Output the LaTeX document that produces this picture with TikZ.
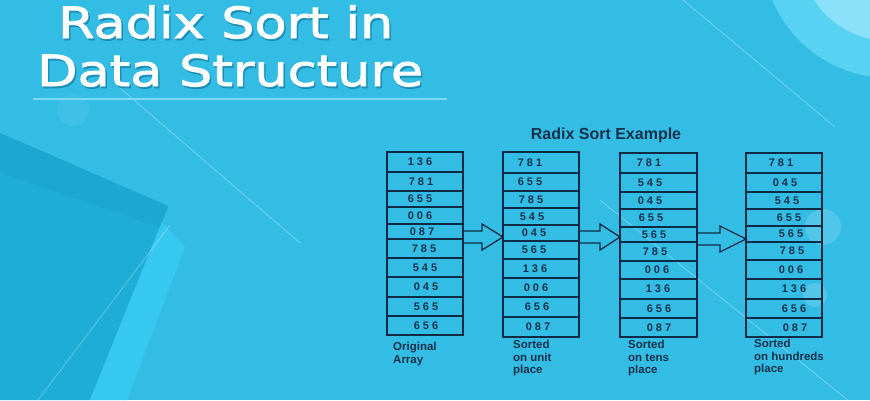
\documentclass[tikz,border=0pt]{standalone}
\usepackage{fontspec}
\setmainfont{Liberation Sans}
\newfontfamily\titlefont{DejaVu Sans}[FakeStretch=1.22,FakeBold=2]
\usetikzlibrary{calc}
\definecolor{bg}{HTML}{33BDE5}
\definecolor{bgdark}{HTML}{1DADD7}
\definecolor{bgdarker}{HTML}{1CA7D2}
\definecolor{bglight}{HTML}{36C8F0}
\definecolor{circout}{HTML}{58D2F2}
\definecolor{circin}{HTML}{8CE1FA}
\definecolor{navy}{HTML}{0E2A44}
\definecolor{inktext}{HTML}{15304A}
\definecolor{shadowc}{HTML}{13709A}
\definecolor{rule}{HTML}{7ED8F2}

\tikzset{
  cell/.style={draw=navy, line width=1.5pt, rectangle, inner sep=0pt, outer sep=0pt},
  num/.style={inner sep=0pt, text=inktext, font=\bfseries\fontsize{11}{12}\selectfont},
  lbl/.style={inner sep=0pt, anchor=north west, align=left, text=inktext, font=\bfseries\fontsize{11.5}{12.5}\selectfont},
  arrowline/.style={draw=navy, line width=1.3pt, line join=miter},
  bigtitle/.style={inner sep=0pt, anchor=base west, font=\titlefont\fontsize{43}{48}\selectfont},
  thinline/.style={draw=white, opacity=0.3, line width=0.8pt}
}

\newcommand\drawcolumn[4]{%
  \foreach \t/\b/\v/\tx [count=\i] in {#4} {
    \pgfmathsetmacro\hh{\b-\t}
    \pgfmathsetmacro\mm{(\b+\t)/2}
    \node[cell, minimum width={#3-#2}, minimum height=\hh, anchor=north west] (c#1-\i) at (#2,\t) {};
    \node[num] (n#1-\i) at (\tx,\mm) {\v};
  }%
}
\newcommand\blockarrow[3]{%
  \draw[arrowline] let \p1=(#1), \p2=(#2) in
    (\x1,\y1-6pt) -- (\x2-#3,\y1-6pt) -- (\x2-#3,\y1-13pt) -- (\p2)
    -- (\x2-#3,\y1+13pt) -- (\x2-#3,\y1+6pt) -- (\x1,\y1+6pt);%
}

\begin{document}
\begin{tikzpicture}[x=1pt,y=-1pt]
\useasboundingbox (0,0) rectangle (870,400);
% background
\fill[bg] (0,0) rectangle (870,400);
\fill[bgdark] (0,133) -- (168,206) -- (90,400) -- (0,400) -- cycle;
\fill[bgdarker] (0,133) -- (168,206) -- (160,228) -- (0,172) -- cycle;
\fill[bglight] (162,222) -- (185,247) -- (127,400) -- (90,400) -- cycle;
\fill[circout] (890,-50) circle[radius=128];
\fill[circin] (890,-50) circle[radius=91];
\fill[white, opacity=0.15] (823,227) circle[radius=18];
\fill[white, opacity=0.15] (815,295) circle[radius=12];
\fill[white, opacity=0.06] (73,110) circle[radius=16];
\draw[thinline] (38,400) -- (170,225);
\draw[thinline] (120,88) -- (300,243);
\draw[thinline] (683,0) -- (835,127);
\draw[thinline] (600,200) -- (870,418);

% main title (soft shadow, then white text)
\node[bigtitle, text=shadowc, opacity=0.5] (t1s) at (59.5,40) {Radix Sort in};
\node[bigtitle, text=shadowc, opacity=0.5] (t2s) at (38.5,88) {Data Structure};
\node[bigtitle, text=white] (t1) at (58,38) {Radix Sort in};
\node[bigtitle, text=white] (t2) at (37,86) {Data Structure};
\draw[rule, line width=1.2pt] (33,99) -- (447,99);

% diagram title
\node[inner sep=0pt, anchor=base, text=inktext, font=\bfseries\fontsize{16}{18}\selectfont] (ex) at (606,139) {Radix Sort Example};

% columns
\drawcolumn{1}{387}{463}{152/172/1 3 6/420, 172/191/7 8 1/421, 191/207/6 5 5/420, 207/224/0 0 6/420, 224/239/0 8 7/422, 239/258/7 8 5/424, 258/277/5 4 5/425, 277/297/0 4 5/426, 297/316/5 6 5/426, 316/335/6 5 6/426}
\drawcolumn{2}{503}{579}{152/173/7 8 1/530, 173/191/6 5 5/530, 191/208/7 8 5/531, 208/225/5 4 5/532, 225/241/0 4 5/534, 241/259/5 6 5/534, 259/278/1 3 6/535, 278/297/0 0 6/536, 297/317/6 5 6/537, 317/337/0 8 7/538}
\drawcolumn{3}{620}{697}{153/173/7 8 1/649, 173/192/5 4 5/650, 192/209/0 4 5/650, 209/227/6 5 5/651, 227/242/5 6 5/654, 242/261/7 8 5/655, 261/279/0 0 6/657, 279/299/1 3 6/658, 299/318/6 5 6/659, 318/337/0 8 7/659}
\drawcolumn{4}{746}{822}{153/173/7 8 1/781, 173/192/0 4 5/785, 192/209/5 4 5/787, 209/226/6 5 5/789, 226/242/5 6 5/791, 242/260/7 8 5/792, 260/279/0 0 6/791, 279/299/1 3 6/794, 299/318/6 5 6/794, 318/337/0 8 7/795}

% arrows
\coordinate (a1s) at (463,237); \coordinate (a1e) at (503,237);
\coordinate (a2s) at (579,237); \coordinate (a2e) at (620,237);
\coordinate (a3s) at (697,239); \coordinate (a3e) at (746,239);
\blockarrow{a1s}{a1e}{21pt}
\blockarrow{a2s}{a2e}{20pt}
\blockarrow{a3s}{a3e}{26pt}

% labels
\node[lbl] (l1) at (393,342) {Original\\Array};
\node[lbl] (l2) at (513,340) {Sorted\\on unit\\place};
\node[lbl] (l3) at (628,340) {Sorted\\on tens\\place};
\node[lbl] (l4) at (754,339) {Sorted\\on hundreds\\place};
\end{tikzpicture}
\end{document}
